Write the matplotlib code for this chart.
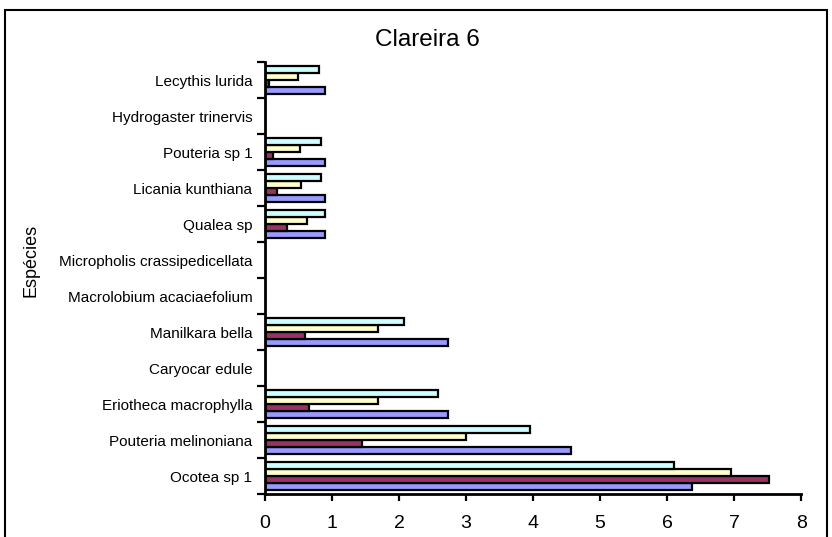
import matplotlib
matplotlib.use("Agg")
import matplotlib.pyplot as plt
from matplotlib.patches import Rectangle
import numpy as np

plt.rcParams['font.family'] = ['Liberation Sans', 'DejaVu Sans']

species = [
    "Ocotea sp 1", "Pouteria melinoniana", "Eriotheca macrophylla",
    "Caryocar edule", "Manilkara bella", "Macrolobium acaciaefolium",
    "Micropholis crassipedicellata", "Qualea sp", "Licania kunthiana",
    "Pouteria sp 1", "Hydrogaster trinervis", "Lecythis lurida",
]
serie_azul = [6.37, 4.57, 2.73, 0, 2.73, 0, 0, 0.90, 0.90, 0.90, 0, 0.90]
serie_vinho = [7.52, 1.44, 0.66, 0, 0.60, 0, 0, 0.33, 0.18, 0.12, 0, 0.06]
serie_amarela = [6.95, 3.00, 1.68, 0, 1.68, 0, 0, 0.63, 0.54, 0.52, 0, 0.49]
serie_ciano = [6.10, 3.95, 2.58, 0, 2.07, 0, 0, 0.90, 0.84, 0.84, 0, 0.80]
x_ticks = [0, 1, 2, 3, 4, 5, 6, 7, 8]

series = [serie_azul, serie_vinho, serie_amarela, serie_ciano]
cores = ["#9999FF", "#993366", "#FFFFCC", "#CCFFFF"]

fig = plt.figure(figsize=(8.32, 5.37), dpi=100)
ax = fig.add_axes([0.3185, 0.080, 0.6445, 0.8045])

y = np.arange(len(species))
h = 0.2
offsets = [-0.3, -0.1, 0.1, 0.3]
for vals, cor, off in zip(series, cores, offsets):
    ax.barh(y + off, vals, height=h, color=cor, edgecolor="black",
            linewidth=1.6, zorder=2)

ax.set_xlim(0, 8)
ax.set_ylim(-0.5, len(species) - 0.5)
ax.set_xticks(x_ticks)
ax.set_xticklabels([str(t) for t in x_ticks], fontsize=14)
ax.tick_params(axis="x", direction="out", length=5, width=1.6, pad=10)

ax.set_yticks(y)
ax.set_yticklabels(species, fontsize=11)
ax.tick_params(axis="y", which="major", length=0, pad=9)
ax.set_yticks(np.arange(-0.5, len(species), 1), minor=True)
ax.tick_params(axis="y", which="minor", direction="out", length=6, width=1.6)

for s in ["top", "right"]:
    ax.spines[s].set_visible(False)
for s in ["left", "bottom"]:
    ax.spines[s].set_linewidth(2)
    ax.spines[s].set_zorder(3)

ax.set_ylabel("Espécies", fontsize=13)
ax.yaxis.set_label_coords(-0.42, 0.54)

fig.text(0.514, 0.925, "Clareira 6", ha="center", va="center", fontsize=17.5)

# outer frame of the chart area
fig.patches.append(Rectangle((0.006, -0.05), 0.988, 1.031, transform=fig.transFigure,
                             fill=False, edgecolor="black", linewidth=1.5))

fig.savefig("out.png", dpi=100)
